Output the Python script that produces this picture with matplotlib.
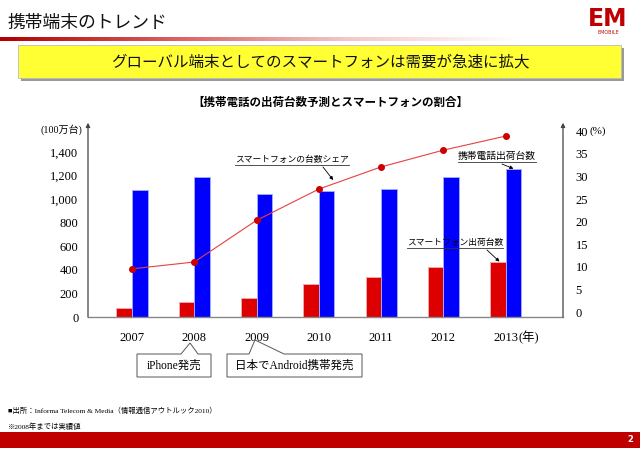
import numpy as np
import matplotlib
matplotlib.use("Agg")
import matplotlib.pyplot as plt
from matplotlib.patches import Rectangle, Polygon
from matplotlib.lines import Line2D

plt.rcParams['font.family'] = ['Liberation Serif', 'Noto Sans CJK JP']

# データ
years = ['2007', '2008', '2009', '2010', '2011', '2012', '2013']
smartphone_units = [80, 125, 164, 283, 339, 427, 467]          # 100万台
mobile_units = [1075, 1190, 1040, 1066, 1086, 1185, 1253]      # 100万台
smartphone_share = [9.6, 11.1, 20.3, 27.2, 32.1, 35.8, 38.9]   # %
left_ticks = [0, 200, 400, 600, 800, 1000, 1200, 1400]
right_ticks = [0, 5, 10, 15, 20, 25, 30, 35, 40]

W, H = 640, 453


def fx(x):
    return x / W


def fy(y):
    return 1 - y / H


fig = plt.figure(figsize=(6.4, 4.53), dpi=100)
fig.patch.set_facecolor('white')

# ヘッダー
fig.text(fx(8), fy(23), '携帯端末のトレンド', fontsize=12.8, va='center', ha='left', color='#111111')
grad_ax = fig.add_axes([0, fy(41), fx(520), 4 / H])
grad = np.linspace(0, 1, 256).reshape(1, -1)
cmap = matplotlib.colors.LinearSegmentedColormap.from_list('g', ['#B00000', '#D86060', '#F2C8C8', '#FFFFFF'])
grad_ax.imshow(grad, aspect='auto', cmap=cmap)
grad_ax.axis('off')

# ロゴ
fig.text(fx(608), fy(19), 'EM', fontsize=17, fontweight='bold', color='#C00000',
         ha='center', va='center', family='DejaVu Sans')
fig.text(fx(608), fy(33), 'EMOBILE', fontsize=3.5, color='#C00000', ha='center', va='center',
         family='DejaVu Sans')

# 黄色いボックス
fig.add_artist(Rectangle((fx(21), fy(81)), fx(603), 33 / H, transform=fig.transFigure,
                         facecolor='#999999', edgecolor='none'))
fig.add_artist(Rectangle((fx(18), fy(78)), fx(603), 33 / H, transform=fig.transFigure,
                         facecolor='#FFFF33', edgecolor='#BBBBBB', lw=0.6))
fig.text(fx(320), fy(62), 'グローバル端末としてのスマートフォンは需要が急速に拡大', fontsize=11.2,
         ha='center', va='center', color='#111111')

# グラフタイトル
fig.text(fx(330), fy(103), '【携帯電話の出荷台数予測とスマートフォンの割合】', fontsize=8.3,
         ha='center', va='center', fontweight='bold')

# グラフ本体
ax = fig.add_axes([fx(88), fy(317), fx(563 - 88), (317 - 128.4) / H])
x = np.arange(len(years))
w = 0.25
ax.bar(x - w / 2, smartphone_units, w, color='#DD0000', edgecolor='#F4A8A8', lw=0.7, zorder=2)
ax.bar(x + w / 2, mobile_units, w, color='#0000FF', edgecolor='#9FA8FF', lw=0.7, zorder=2)
ax.set_xlim(-0.706, 6.92)
ax.set_ylim(0, 1600)
ax.set_yticks(left_ticks)
ax.set_yticklabels([f'{v:,}' for v in left_ticks], fontsize=9)
ax.set_xticks(x)
ax.set_xticklabels(years, fontsize=9)
ax.tick_params(axis='y', length=0, pad=7)
ax.tick_params(axis='x', length=0, pad=11)
for s in ['top', 'left', 'right']:
    ax.spines[s].set_visible(False)
ax.spines['bottom'].set_color('#888888')
ax.spines['bottom'].set_linewidth(1.0)
ax.annotate('(年)', xy=(6, 0), xytext=(9, -15), textcoords='offset points',
            fontsize=9, ha='left', va='center', annotation_clip=False)

ax2 = ax.twinx()
ax2.plot(x, smartphone_share, color='#E84040', lw=0.8, marker='o', ms=4,
         markerfacecolor='#CC0000', markeredgecolor='#CC0000', zorder=3)
ax2.set_ylim(-1.04, 40.6)
ax2.set_yticks(right_ticks)
ax2.set_yticklabels([str(v) for v in right_ticks], fontsize=9)
ax2.tick_params(axis='y', length=0, pad=9)
for s in ['top', 'left', 'right', 'bottom']:
    ax2.spines[s].set_visible(False)

# 縦軸の矢印
for xa in [0, 1]:
    ax.annotate('', xy=(xa, 1.03), xytext=(xa, 0), xycoords='axes fraction',
                textcoords='axes fraction',
                arrowprops=dict(arrowstyle='-|>', color='#444444', lw=0.9,
                                mutation_scale=6, shrinkA=0, shrinkB=0))

fig.text(fx(61), fy(130), '(100万台)', fontsize=7.2, ha='center', va='center')
fig.text(fx(590), fy(131), '(%)', fontsize=8, ha='left', va='center')

# 注釈
notes = [
    ('スマートフォンの台数シェア', 235, 160, 6.3, ax2, (3.23, 29.2), (323, 167)),
    ('携帯電話出荷台数', 458, 156, 7, ax, (6.125, 1258), (502, 164)),
    ('スマートフォン出荷台数', 407, 243, 6.3, ax, (5.9, 470), (487, 250)),
]
note_texts = []
for label, tx, ty, fs, a, target, start in notes:
    t = fig.text(fx(tx), fy(ty), label, fontsize=fs, ha='left', va='center', zorder=5)
    note_texts.append(t)
    a.annotate('', xy=target, xytext=(fx(start[0]), fy(start[1])), textcoords='figure fraction',
               arrowprops=dict(arrowstyle='-|>', color='black', lw=0.6,
                               mutation_scale=5, shrinkA=0, shrinkB=0))

fig.canvas.draw()
renderer = fig.canvas.get_renderer()
inv = fig.transFigure.inverted()
for t in note_texts:
    bb = t.get_window_extent(renderer).transformed(inv)
    fig.add_artist(Line2D([bb.x0, bb.x1], [bb.y0 - 0.002, bb.y0 - 0.002],
                          transform=fig.transFigure, color='#333333', lw=0.6))

# 吹き出し
callouts = [
    ('iPhone発売', (137, 211, 354, 377), (181, 190, 343, 198)),
    ('日本でAndroid携帯発売', (227, 362, 354, 377), (249, 255, 340, 284)),
]
for label, (x0, x1, y0, y1), (b0, apx, apy, b1) in callouts:
    verts = [(x0, y0), (b0, y0), (apx, apy), (b1, y0), (x1, y0), (x1, y1), (x0, y1)]
    fig.add_artist(Polygon([(fx(a), fy(b)) for a, b in verts], closed=True,
                           transform=fig.transFigure, facecolor='white',
                           edgecolor='#555555', lw=0.7))
    fig.text(fx((x0 + x1) / 2), fy((y0 + y1) / 2), label, fontsize=8.3, ha='center', va='center')

# フッター
fig.text(fx(8), fy(410), '■出所：Informa Telecom & Media（情報通信アウトルック2010）',
         fontsize=5.3, ha='left', va='center')
fig.text(fx(8), fy(426), '※2008年までは実績値', fontsize=5.3, ha='left', va='center')
fig.add_artist(Rectangle((0, fy(448)), 1, 16.5 / H, transform=fig.transFigure,
                         facecolor='#C00000', edgecolor='none'))
fig.text(fx(630), fy(440), '2', fontsize=6, color='white', fontweight='bold',
         ha='center', va='center', family='DejaVu Sans')

fig.savefig('out.png', dpi=100)
